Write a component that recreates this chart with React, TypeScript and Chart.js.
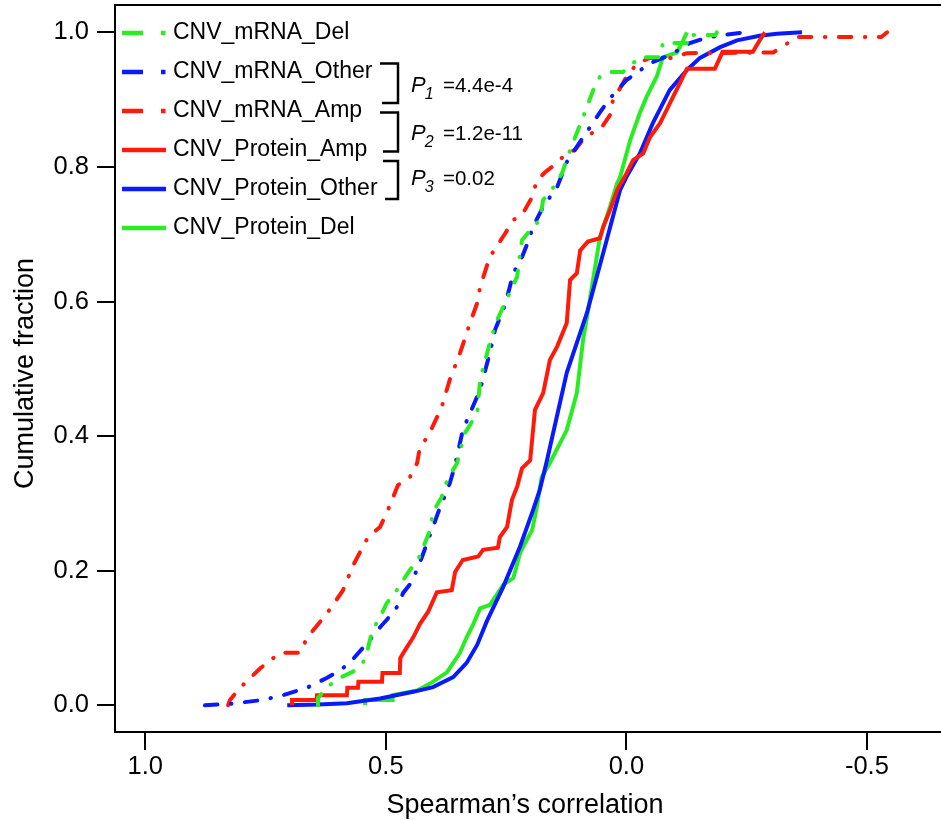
import React, { useEffect, useRef } from "react";
import { Chart, registerables } from "chart.js";

Chart.register(...registerables);

const FONT = "'Liberation Sans', Arial, Helvetica, sans-serif";
const RED = "#ff1a0a";
const GREEN = "#2aec22";
const BLUE = "#0a1aff";

const X_TICKS = [1.0, 0.5, 0.0, -0.5];
const Y_TICKS = [0, 0.2, 0.4, 0.6, 0.8, 1.0];
const X_MIN = -0.654;
const X_MAX = 1.063;
const Y_MIN = -0.0397;
const Y_MAX = 1.0406;

const X_TITLE = "Spearman\u2019s correlation";
const Y_TITLE = "Cumulative fraction";

const SERIES_NAMES = [
  "CNV_mRNA_Del",
  "CNV_mRNA_Other",
  "CNV_mRNA_Amp",
  "CNV_Protein_Amp",
  "CNV_Protein_Other",
  "CNV_Protein_Del",
];

const P_SUBS = ["1", "2", "3"];
const P_VALUES = ["=4.4e-4", "=1.2e-11", "=0.02"];

// [Spearman's correlation, cumulative fraction]
const mrnaDel: [number, number][] = [
  [0.641, 0], [0.641, 0.011], [0.622, 0.027], [0.595, 0.041], [0.568, 0.05], [0.547, 0.064],
  [0.537, 0.085], [0.528, 0.112], [0.512, 0.131], [0.498, 0.152], [0.481, 0.167], [0.464, 0.186],
  [0.45, 0.201], [0.433, 0.216], [0.408, 0.26], [0.402, 0.287], [0.384, 0.309], [0.377, 0.327],
  [0.36, 0.35], [0.352, 0.36], [0.336, 0.404], [0.31, 0.434], [0.304, 0.484], [0.284, 0.538],
  [0.269, 0.572], [0.252, 0.598], [0.227, 0.637], [0.221, 0.672], [0.217, 0.691], [0.2, 0.706],
  [0.18, 0.721], [0.173, 0.751], [0.155, 0.766], [0.134, 0.79], [0.117, 0.825], [0.09, 0.874],
  [0.069, 0.914], [0.055, 0.934], [0.04, 0.941], [0.007, 0.941], [-0.028, 0.963], [-0.07, 0.963],
  [-0.076, 0.984], [-0.132, 0.984], [-0.135, 0.996], [-0.185, 0.996], [-0.188, 1.0],
];

const mrnaOther: [number, number][] = [
  [0.876, 0], [0.824, 0.002], [0.755, 0.008], [0.714, 0.015], [0.664, 0.026], [0.622, 0.041],
  [0.595, 0.052], [0.574, 0.064], [0.537, 0.094], [0.512, 0.116], [0.498, 0.127], [0.477, 0.146],
  [0.464, 0.167], [0.443, 0.186], [0.435, 0.204], [0.425, 0.22], [0.412, 0.246], [0.402, 0.265],
  [0.391, 0.287], [0.367, 0.33], [0.356, 0.357], [0.34, 0.409], [0.304, 0.469], [0.284, 0.523],
  [0.273, 0.558], [0.252, 0.595], [0.235, 0.642], [0.217, 0.666], [0.204, 0.689], [0.194, 0.711],
  [0.173, 0.741], [0.144, 0.77], [0.124, 0.807], [0.103, 0.83], [0.055, 0.881], [0.034, 0.902],
  [0.0, 0.929], [-0.024, 0.941], [-0.049, 0.954], [-0.09, 0.966], [-0.132, 0.984], [-0.167, 0.992],
  [-0.2, 0.996], [-0.25, 1.0],
];

const mrnaAmp: [number, number][] = [
  [0.828, 0], [0.824, 0.008], [0.803, 0.026], [0.761, 0.055], [0.72, 0.078], [0.678, 0.078],
  [0.664, 0.1], [0.622, 0.137], [0.589, 0.171], [0.568, 0.208], [0.537, 0.25], [0.512, 0.265],
  [0.498, 0.286], [0.475, 0.327], [0.45, 0.339], [0.435, 0.36], [0.429, 0.384], [0.412, 0.4],
  [0.384, 0.443], [0.367, 0.484], [0.346, 0.523], [0.325, 0.568], [0.31, 0.598], [0.304, 0.622],
  [0.284, 0.666], [0.252, 0.701], [0.235, 0.721], [0.215, 0.731], [0.196, 0.755], [0.186, 0.78],
  [0.169, 0.792], [0.144, 0.806], [0.124, 0.821], [0.107, 0.825], [0.086, 0.844], [0.051, 0.859],
  [0.034, 0.877], [0.028, 0.899], [0.009, 0.922], [-0.004, 0.939], [-0.024, 0.954], [-0.049, 0.962],
  [-0.095, 0.962], [-0.126, 0.969], [-0.305, 0.97], [-0.34, 0.986], [-0.354, 0.993], [-0.53, 0.993],
  [-0.542, 1.0],
];

const proteinAmp: [number, number][] = [
  [0.695, 0], [0.695, 0.008], [0.644, 0.008], [0.643, 0.015], [0.581, 0.015], [0.58, 0.026],
  [0.558, 0.026], [0.557, 0.035], [0.508, 0.035], [0.507, 0.048], [0.471, 0.048], [0.47, 0.07],
  [0.46, 0.082], [0.443, 0.101], [0.429, 0.121], [0.412, 0.139], [0.394, 0.168], [0.363, 0.171],
  [0.356, 0.198], [0.34, 0.216], [0.308, 0.221], [0.298, 0.231], [0.267, 0.234], [0.263, 0.25],
  [0.248, 0.265], [0.238, 0.305], [0.227, 0.325], [0.217, 0.352], [0.2, 0.364], [0.19, 0.439],
  [0.173, 0.464], [0.159, 0.513], [0.144, 0.533], [0.124, 0.568], [0.117, 0.632], [0.103, 0.642],
  [0.096, 0.676], [0.08, 0.689], [0.055, 0.694], [0.048, 0.711], [0.034, 0.736], [0.019, 0.766],
  [0.0, 0.79], [-0.014, 0.81], [-0.035, 0.82], [-0.049, 0.844], [-0.07, 0.865], [-0.084, 0.885],
  [-0.097, 0.904], [-0.111, 0.924], [-0.126, 0.946], [-0.184, 0.946], [-0.2, 0.971], [-0.263, 0.971],
  [-0.277, 0.988], [-0.288, 1.0],
];

const proteinOther: [number, number][] = [
  [0.705, 0], [0.64, 0.001], [0.581, 0.003], [0.512, 0.01], [0.443, 0.02], [0.402, 0.027],
  [0.36, 0.042], [0.332, 0.063], [0.31, 0.09], [0.29, 0.125], [0.256, 0.176], [0.221, 0.236],
  [0.194, 0.29], [0.18, 0.32], [0.165, 0.364], [0.124, 0.494], [0.082, 0.583], [0.041, 0.691],
  [0.013, 0.766], [0.0, 0.785], [-0.028, 0.82], [-0.055, 0.865], [-0.09, 0.914], [-0.126, 0.944],
  [-0.153, 0.962], [-0.195, 0.978], [-0.23, 0.988], [-0.277, 0.995], [-0.313, 0.998], [-0.365, 1.0],
];

const proteinDel: [number, number][] = [
  [0.543, 0], [0.543, 0.008], [0.487, 0.008], [0.486, 0.015], [0.435, 0.022], [0.404, 0.034],
  [0.373, 0.049], [0.346, 0.078], [0.332, 0.101], [0.318, 0.121], [0.304, 0.144], [0.284, 0.149],
  [0.256, 0.179], [0.235, 0.189], [0.221, 0.226], [0.207, 0.246], [0.196, 0.26], [0.186, 0.295],
  [0.176, 0.339], [0.159, 0.36], [0.124, 0.409], [0.103, 0.464], [0.09, 0.543], [0.076, 0.602],
  [0.055, 0.696], [0.034, 0.741], [0.019, 0.776], [0.013, 0.785], [-0.008, 0.84], [-0.028, 0.88],
  [-0.042, 0.904], [-0.063, 0.934], [-0.076, 0.963], [-0.105, 0.97], [-0.118, 0.988], [-0.126, 1.0],
];

const SERIES_DATA = [mrnaDel, mrnaOther, mrnaAmp, proteinAmp, proteinOther, proteinDel];
const SERIES_COLORS = [GREEN, BLUE, RED, RED, BLUE, GREEN];
const SERIES_DASHED = [true, true, true, false, false, false];

const DASH_DOT = [12.5, 13.5, 0.5, 13.5];

const decorPlugin = {
  id: "decor",
  afterDraw(chart: any) {
    const ctx: CanvasRenderingContext2D = chart.ctx;
    const { left, top, bottom, right } = chart.chartArea;
    ctx.save();

    // frame
    ctx.strokeStyle = "#000";
    ctx.lineWidth = 2;
    ctx.beginPath();
    ctx.moveTo(right + 5, top);
    ctx.lineTo(left, top);
    ctx.lineTo(left, bottom);
    ctx.lineTo(right + 5, bottom);
    ctx.stroke();

    // legend
    const baselines = [39, 78, 117, 156, 195, 234];
    ctx.font = `23px ${FONT}`;
    ctx.textAlign = "left";
    ctx.textBaseline = "alphabetic";
    SERIES_NAMES.forEach((name, i) => {
      const yb = baselines[i];
      const yc = yb - 6;
      ctx.fillStyle = SERIES_COLORS[i];
      if (SERIES_DASHED[i]) {
        ctx.fillRect(122, yc - 2.25, 21, 4.5);
        ctx.fillRect(161, yc - 2.25, 4.5, 4.5);
      } else {
        ctx.fillRect(122, yc - 2.25, 44, 4.5);
      }
      ctx.fillStyle = "#000";
      ctx.fillText(name, 173, yb);
    });

    // brackets
    ctx.strokeStyle = "#000";
    ctx.lineWidth = 2.5;
    ctx.lineJoin = "miter";
    const brackets = [
      [380, 63.5, 103, 382],
      [380, 112.5, 151.5, 383],
      [383, 161, 199, 385],
    ];
    brackets.forEach(([x0, y0, y1, x1]) => {
      ctx.beginPath();
      ctx.moveTo(x0, y0);
      ctx.lineTo(398, y0);
      ctx.lineTo(398, y1);
      ctx.lineTo(x1, y1);
      ctx.stroke();
    });

    // P labels
    const pBase = [92, 140, 185];
    P_SUBS.forEach((sub, i) => {
      const yb = pBase[i];
      ctx.fillStyle = "#000";
      ctx.font = `italic 22px ${FONT}`;
      ctx.fillText("P", 411, yb);
      const pw = ctx.measureText("P").width;
      ctx.font = `italic 16px ${FONT}`;
      ctx.fillText(sub, 411 + pw - 1, yb + 7);
      ctx.font = `20.5px ${FONT}`;
      ctx.fillText(P_VALUES[i], 443, yb);
    });

    // axis titles
    ctx.font = `27px ${FONT}`;
    ctx.fillStyle = "#000";
    ctx.textAlign = "center";
    ctx.textBaseline = "alphabetic";
    ctx.fillText(X_TITLE, 525, 813);
    ctx.save();
    ctx.translate(33, 373.5);
    ctx.rotate(-Math.PI / 2);
    ctx.fillText(Y_TITLE, 0, 0);
    ctx.restore();

    ctx.restore();
  },
};

export default function App() {
  const canvasRef = useRef<HTMLCanvasElement | null>(null);

  useEffect(() => {
    const canvas = canvasRef.current;
    if (!canvas) return;
    const datasets = SERIES_NAMES.map((name, i) => ({
      label: name,
      data: SERIES_DATA[i].map(([x, y]) => ({ x, y })),
      borderColor: SERIES_COLORS[i],
      backgroundColor: SERIES_COLORS[i],
      borderWidth: 4,
      borderDash: SERIES_DASHED[i] ? DASH_DOT : [],
      borderCapStyle: SERIES_DASHED[i] ? ("round" as const) : ("butt" as const),
      borderJoinStyle: "miter" as const,
      pointRadius: 0,
      fill: false,
      tension: 0,
    }));

    const chart = new Chart(canvas, {
      type: "line",
      data: { datasets },
      options: {
        animation: false,
        responsive: false,
        events: [],
        layout: { padding: { top: 5, left: 0, right: 0, bottom: 0 } },
        plugins: { legend: { display: false }, tooltip: { enabled: false }, title: { display: false } },
        scales: {
          x: {
            type: "linear",
            reverse: true,
            min: X_MIN,
            max: X_MAX,
            afterBuildTicks: (s: any) => {
              s.ticks = X_TICKS.map((v) => ({ value: v }));
            },
            afterFit: (s: any) => {
              s.height = 88;
              s.paddingLeft = 0;
              s.paddingRight = 0;
            },
            border: { display: false },
            grid: {
              drawOnChartArea: false,
              drawTicks: true,
              tickLength: 18,
              tickWidth: 2,
              tickColor: "#000",
              color: "#000",
              lineWidth: 2,
            },
            ticks: {
              color: "#000",
              font: { family: FONT, size: 25.5 },
              padding: 2,
              maxRotation: 0,
              autoSkip: false,
              callback: (v: any) => Number(v).toFixed(1),
            },
          },
          y: {
            type: "linear",
            min: Y_MIN,
            max: Y_MAX,
            afterBuildTicks: (s: any) => {
              s.ticks = Y_TICKS.map((v) => ({ value: v }));
            },
            afterFit: (s: any) => {
              s.width = 115;
              s.paddingTop = 0;
              s.paddingBottom = 0;
            },
            border: { display: false },
            grid: {
              drawOnChartArea: false,
              drawTicks: true,
              tickLength: 18,
              tickWidth: 2,
              tickColor: "#000",
              color: "#000",
              lineWidth: 2,
            },
            ticks: {
              color: "#000",
              font: { family: FONT, size: 25.5 },
              padding: 8,
              autoSkip: false,
              callback: (v: any) => Number(v).toFixed(1),
            },
          },
        },
      },
      plugins: [decorPlugin],
    });
    return () => chart.destroy();
  }, []);

  return (
    <div style={{ position: "absolute", left: 0, top: 0, width: 941, height: 820, background: "#fff" }}>
      <canvas ref={canvasRef} width={941} height={820} style={{ width: 941, height: 820, display: "block" }} />
    </div>
  );
}
